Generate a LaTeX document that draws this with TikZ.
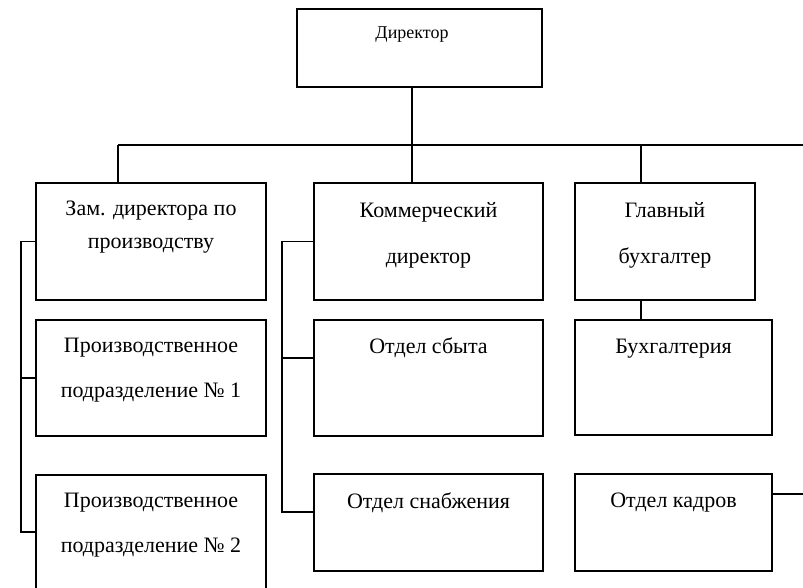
\documentclass[tikz,border=0pt]{standalone}
\usepackage{fontspec}
\setmainfont{Liberation Serif}
\tikzset{
  box/.style={draw, line width=1.6pt, inner sep=0pt, fill=white},
  txt/.style={anchor=base, inner sep=0pt, font=\fontsize{22}{26}\selectfont},
  dtxt/.style={anchor=base, inner sep=0pt, font=\fontsize{18}{22}\selectfont},
  con/.style={line width=1.6pt}
}
\begin{document}
\begin{tikzpicture}[x=1pt,y=-1pt]
\useasboundingbox (0,0) rectangle (803,587);
% boxes
\node[box, minimum width=245pt, minimum height=78pt] (dir) at (419.5,48) {};
\node[box, minimum width=230pt, minimum height=117pt] (zam) at (151,241.5) {};
\node[box, minimum width=229pt, minimum height=117pt] (kom) at (428.5,241.5) {};
\node[box, minimum width=180pt, minimum height=117pt] (glav) at (665,241.5) {};
\node[box, minimum width=230pt, minimum height=116pt] (p1) at (151,378) {};
\node[box, minimum width=230pt, minimum height=114pt] (p2) at (151,532) {};
\node[box, minimum width=229pt, minimum height=116pt] (sbyt) at (428.5,378) {};
\node[box, minimum width=229pt, minimum height=97pt] (snab) at (428.5,522.5) {};
\node[box, minimum width=197pt, minimum height=115pt] (buh) at (673.5,377.5) {};
\node[box, minimum width=197pt, minimum height=97pt] (kadr) at (673.5,522.5) {};
% texts
\node[dtxt] (tdir) at (412,38) {Директор};
\node[txt] (tzam1) at (151,215) {Зам. директора по};
\node[txt] (tzam2) at (151,248) {производству};
\node[txt] (tkom1) at (428.5,217) {Коммерческий};
\node[txt] (tkom2) at (428.5,263) {директор};
\node[txt] (tglav1) at (665,217) {Главный};
\node[txt] (tglav2) at (665,263) {бухгалтер};
\node[txt] (tp11) at (151,352) {Производственное};
\node[txt] (tp12) at (151,397) {подразделение № 1};
\node[txt] (tp21) at (151,507) {Производственное};
\node[txt] (tp22) at (151,552) {подразделение № 2};
\node[txt] (tsbyt) at (428.5,353) {Отдел сбыта};
\node[txt] (tsnab) at (428.5,508) {Отдел снабжения};
\node[txt] (tbuh) at (673.5,353) {Бухгалтерия};
\node[txt] (tkadr) at (673.5,507) {Отдел кадров};
% bus coordinates
\coordinate (busL) at (118,145);
\coordinate (busR) at (803,145);
\coordinate (busG) at (641,145);
\coordinate (lb1) at (21,378);
\coordinate (lb2) at (21,532);
\coordinate (mb1) at (282,358);
\coordinate (mb2) at (282,512);
\coordinate (kr) at (803,494);
% connectors
\draw[con] (busL) -- (busR);
\draw[con] (dir.south -| 412,0) -- (kom.north -| 412,0);
\draw[con] (busL) -- (zam.north -| busL);
\draw[con] (busG) -- (glav.north -| busG);
\draw[con] (glav.south -| busG) -- (buh.north -| busG);
\draw[con] (zam.west) -| (lb2) -- (p2.west |- lb2);
\draw[con] (lb1) -- (p1.west |- lb1);
\draw[con] (kom.west) -| (mb2) -- (snab.west |- mb2);
\draw[con] (mb1) -- (sbyt.west |- mb1);
\draw[con] (kadr.east |- kr) -- (kr);
\end{tikzpicture}
\end{document}
